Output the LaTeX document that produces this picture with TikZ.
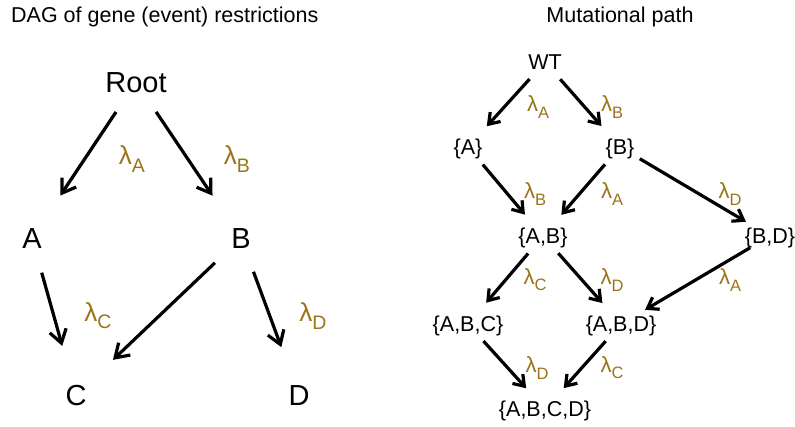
\documentclass[tikz,border=0pt]{standalone}
\usepackage{fontspec}
\setmainfont{Liberation Sans}
\usetikzlibrary{arrows.meta}
\definecolor{ratecol}{RGB}{154,116,23}
\newcommand{\rate}[1]{λ\raisebox{-0.28em}{\scalebox{0.75}{#1}}}
\tikzset{
  gene/.style={inner sep=0pt, text height=20.8pt, text depth=0pt, font=\fontsize{29}{29}\selectfont},
  state/.style={inner sep=0pt, text height=15.4pt, text depth=0pt, font=\fontsize{21.5}{21.5}\selectfont},
  ratel/.style={inner sep=0pt, text=ratecol, font=\fontsize{26}{26}\selectfont},
  rater/.style={inner sep=0pt, text=ratecol, font=\fontsize{22}{22}\selectfont},
  heading/.style={inner sep=0pt, font=\fontsize{21.5}{21.5}\selectfont},
  dagarr/.style={line width=3.2pt, -{Straight Barb[length=13pt,width=17pt]}, shorten <=36pt, shorten >=51pt},
  patharr/.style={line width=3.2pt, -{Straight Barb[length=10pt,width=14pt]}, shorten <=23pt, shorten >=28pt}
}
\begin{document}
\begin{tikzpicture}[x=1pt,y=-1pt]
  \useasboundingbox (0,0) rectangle (795,426);
  % titles
  \node[heading, anchor=base west] (dagtitle) at (11,22) {DAG of gene (event) restrictions};
  \node[heading, anchor=base] (pathtitle) at (620,22) {Mutational path};
  % restriction DAG
  \draw
    (136,82) node[gene] (root){Root}
    (32,238) node[gene] (a){A}
    (241,238) node[gene] (b){B}
    (76,395) node[gene] (c){C}
    (299,395) node[gene] (d){D};
  \begin{scope}[dagarr]
    \draw (root.center) to (a.center);
    \draw (root.center) to (b.center);
    \draw (a.center) to (c.center);
    \draw (b.center) to (c.center);
    \draw (b.center) to (d.center);
  \end{scope}
  \draw
    (132,159) node[ratel] (ra){\rate{A}}
    (237,159) node[ratel] (rb){\rate{B}}
    (98,316) node[ratel] (rc){\rate{C}}
    (313,316) node[ratel] (rd){\rate{D}};
  % mutational path
  \draw
    (545,62) node[state] (wt){WT}
    (468,147) node[state] (sa){\{A\}}
    (620,147) node[state] (sb){\{B\}}
    (543,236) node[state] (sab){\{A,B\}}
    (770,236) node[state] (sbd){\{B,D\}}
    (468,324) node[state] (sabc){\{A,B,C\}}
    (621,324) node[state] (sabd){\{A,B,D\}}
    (545,409) node[state] (sabcd){\{A,B,C,D\}};
  \begin{scope}[patharr]
    \draw (wt.center) to (sa.center);
    \draw (wt.center) to (sb.center);
    \draw (sa.center) to (sab.center);
    \draw (sb.center) to (sab.center);
    \draw (sb.center) to (sbd.center);
    \draw (sab.center) to (sabc.center);
    \draw (sab.center) to (sabd.center);
    \draw (sbd.center) to (sabd.center);
    \draw (sabc.center) to (sabcd.center);
    \draw (sabd.center) to (sabcd.center);
  \end{scope}
  \draw
    (538,107) node[rater] (r1){\rate{A}}
    (612,107) node[rater] (r2){\rate{B}}
    (535,194) node[rater] (r3){\rate{B}}
    (612,194) node[rater] (r4){\rate{A}}
    (730,194) node[rater] (r5){\rate{D}}
    (535,280) node[rater] (r6){\rate{C}}
    (612,280) node[rater] (r7){\rate{D}}
    (730,280) node[rater] (r8){\rate{A}}
    (537,368) node[rater] (r9){\rate{D}}
    (612,368) node[rater] (r10){\rate{C}};
\end{tikzpicture}
\end{document}
